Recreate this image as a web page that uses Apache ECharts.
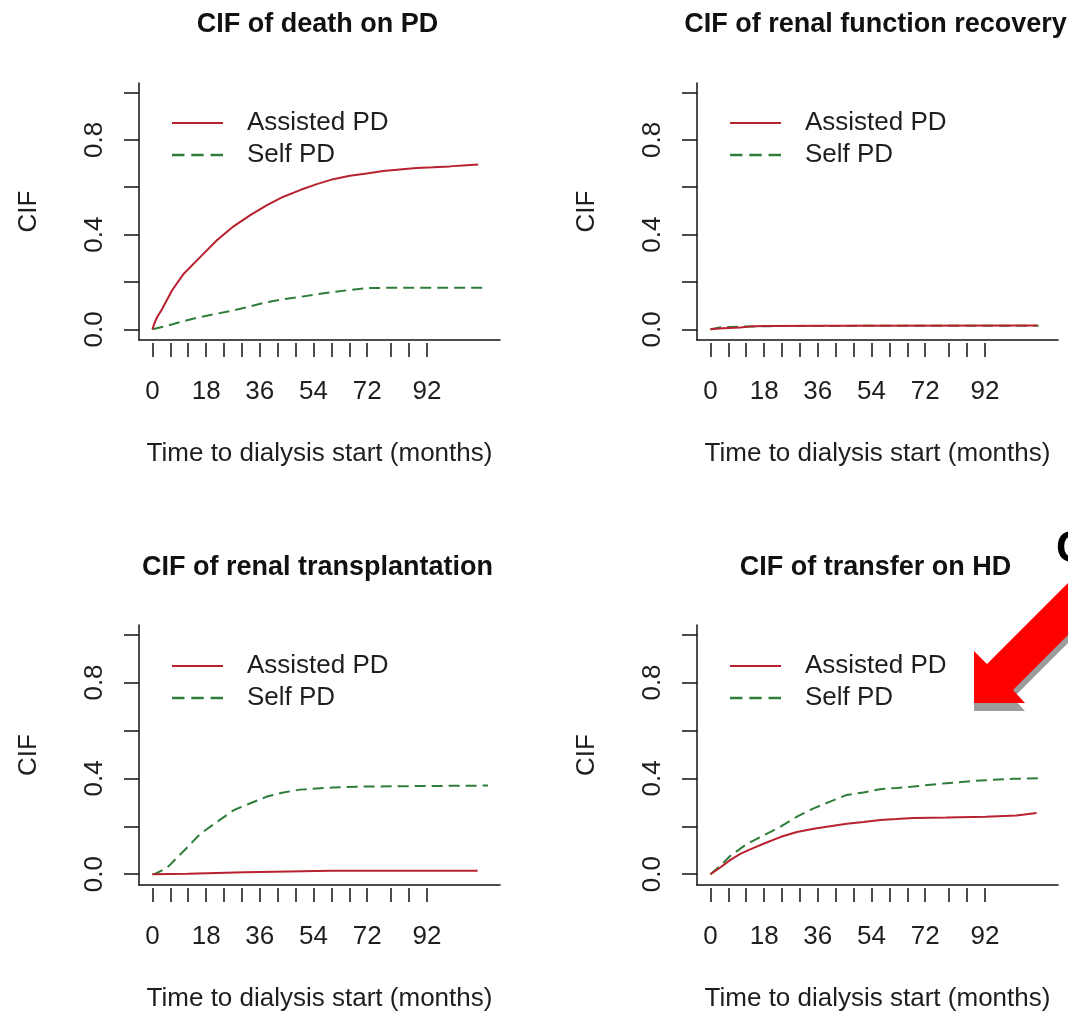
<!DOCTYPE html>
<html><head><meta charset="utf-8">
<script src="https://cdn.jsdelivr.net/npm/echarts@6/dist/echarts.min.js"></script>
<style>html,body{margin:0;padding:0;background:#fff}#c{width:1068px;height:1016px}</style>
</head><body><div id="c"></div>
<script>
// ---------- data ----------
const panelTitles = ['CIF of death on PD', 'CIF of renal function recovery', 'CIF of renal transplantation', 'CIF of transfer on HD'];
const seriesNames = ['Assisted PD', 'Self PD'];
const xTickValues = [0, 6, 12, 18, 24, 30, 36, 42, 48, 54, 60, 66, 72, 80, 86, 92];
const xLabelValues = [0, 18, 36, 54, 72, 92];
const yTickValues = [0, 0.2, 0.4, 0.6, 0.8, 1.0];
const yLabelValues = [0, 0.4, 0.8];
const xAxisName = 'Time to dialysis start (months)';
const yAxisName = 'CIF';

const deathAssisted = [[0,0],[0.5,0.02],[1.5,0.05],[3.2,0.085],[6.6,0.165],[10.5,0.235],[16,0.305],[21.6,0.376],[27.2,0.435],[32.8,0.482],[38.4,0.524],[43.9,0.56],[49.5,0.588],[55.1,0.613],[60.6,0.634],[66.2,0.648],[71.8,0.658],[77.4,0.668],[82.9,0.675],[88.5,0.681],[94.1,0.684],[99.7,0.688],[105.3,0.693],[109.2,0.696]];
const deathSelf = [[0,0],[5,0.015],[10.5,0.035],[16,0.052],[21.6,0.066],[27.2,0.08],[32.8,0.097],[38.4,0.115],[44,0.127],[49.5,0.137],[55,0.148],[60.6,0.158],[66,0.166],[71.8,0.174],[82.9,0.176],[94.1,0.176],[112.5,0.176]];
const recoveryAssisted = [[0,0],[3,0.004],[6,0.006],[10,0.008],[13,0.012],[18,0.014],[40,0.015],[109.5,0.016]];
const recoverySelf = [[0,0],[1.5,0.004],[3,0.008],[6,0.01],[12,0.012],[24,0.014],[60,0.015],[110,0.015]];
const transplantAssisted = [[0,0],[12,0.002],[12.5,0.007],[31,0.008],[31.5,0.013],[60,0.014],[109,0.014]];
const transplantSelf = [[0,0],[1,0.002],[4.9,0.027],[10.5,0.097],[16,0.168],[21.6,0.218],[27.2,0.267],[32.8,0.296],[38.4,0.324],[43.9,0.341],[49.5,0.353],[55,0.358],[60.6,0.362],[71.8,0.366],[90,0.368],[112.5,0.37]];
const hdAssisted = [[0,0],[3.3,0.028],[6.7,0.06],[10,0.085],[13.9,0.107],[17.8,0.127],[23.4,0.155],[29,0.176],[34.6,0.19],[40.1,0.2],[45.7,0.211],[51.3,0.218],[56.9,0.226],[62.4,0.23],[68,0.235],[79.2,0.237],[92.3,0.24],[92.7,0.245],[102.6,0.245],[103,0.252],[109.3,0.255]];
const hdSelf = [[0,0],[3.3,0.035],[6.7,0.077],[12.3,0.127],[17.8,0.162],[23.4,0.198],[29,0.24],[34.6,0.275],[40.1,0.303],[45.7,0.331],[51.3,0.341],[56.9,0.355],[62.4,0.36],[68,0.366],[79.2,0.38],[90.3,0.391],[101.4,0.398],[110.4,0.401]];

const panelData = [
  [deathAssisted, deathSelf],
  [recoveryAssisted, recoverySelf],
  [transplantAssisted, transplantSelf],
  [hdAssisted, hdSelf]
];

// ---------- layout / style ----------
const FONT = '"Liberation Sans", Arial, sans-serif';
const TXT = '#1e1e1e';
const RED = '#b8222f';
const GREEN = '#2f7d3a';
const grids = [
  {left: 139, top: 83, width: 361, height: 257},
  {left: 697, top: 83, width: 361, height: 257},
  {left: 139, top: 625, width: 361, height: 260},
  {left: 697, top: 625, width: 361, height: 260}
];
const titleTops = [11.5, 11.5, 554.5, 554.5];
const XMIN = -4.5, XMAX = 116.5, YMIN = -0.045, YMAX = 1.04;
const axisLineStyle = {color: '#111', width: 1.5};
const FS = 26;

const option = {
  backgroundColor: '#fff',
  animation: false,
  title: [], grid: [], xAxis: [], yAxis: [], legend: [], series: [],
  graphic: []
};

const solidIcon = 'path://M0,0H51V2H0Z';
const dashIcon = 'path://M0,0H11V2H0Z M17,0H28V2H17Z M34,0H45V2H34Z';

grids.forEach((g, i) => {
  option.grid.push(Object.assign({outerBoundsMode: 'none', containLabel: false}, g));
  option.title.push({
    text: panelTitles[i], left: g.left + g.width / 2 - 2, top: titleTops[i], padding: 0, textAlign: 'center',
    textStyle: {fontFamily: FONT, fontWeight: 'bold', fontSize: 27, color: '#111'}
  });
  // box line axis
  option.xAxis.push({
    gridIndex: i, type: 'value', min: XMIN, max: XMAX, position: 'bottom',
    axisLine: {show: true, onZero: false, lineStyle: axisLineStyle},
    axisTick: {show: false}, axisLabel: {show: false}, splitLine: {show: false}
  });
  // tick / label axis, hanging a little below the line
  option.xAxis.push({
    gridIndex: i, type: 'value', min: XMIN, max: XMAX, position: 'bottom', offset: 3,
    axisLine: {show: false, onZero: false},
    axisTick: {show: true, length: 14, customValues: xTickValues, lineStyle: axisLineStyle},
    axisLabel: {show: true, customValues: xLabelValues, margin: 36, fontSize: FS, fontFamily: FONT, color: TXT, hideOverlap: false},
    splitLine: {show: false},
    name: xAxisName, nameLocation: 'middle', nameGap: 98, nameMoveOverlap: false,
    nameTextStyle: {fontSize: FS, fontFamily: FONT, color: TXT}
  });
  option.yAxis.push({
    gridIndex: i, type: 'value', min: YMIN, max: YMAX,
    axisLine: {show: true, onZero: false, lineStyle: axisLineStyle},
    axisTick: {show: true, length: 15, customValues: yTickValues, lineStyle: axisLineStyle},
    axisLabel: {show: true, customValues: yLabelValues, rotate: 90, margin: 31, fontSize: FS, fontFamily: FONT, color: TXT,
      formatter: v => Number(v).toFixed(1)},
    splitLine: {show: false},
    name: yAxisName, nameLocation: 'middle', nameGap: 97, nameRotate: 90, nameMoveOverlap: false,
    nameTextStyle: {fontSize: FS, fontFamily: FONT, color: TXT}
  });
  option.legend.push({
    left: g.left + 33, top: g.top + 27 + (i >= 2 ? 1 : 0), orient: 'vertical', padding: 0,
    itemWidth: 51, itemHeight: 14, itemGap: 6, selectedMode: false,
    itemStyle: {borderWidth: 0},
    textStyle: {fontSize: FS, fontFamily: FONT, color: TXT, padding: [0, 0, 0, 19]},
    data: [{name: seriesNames[0], icon: solidIcon}, {name: seriesNames[1], icon: dashIcon}]
  });
  const [a, s] = panelData[i];
  option.series.push({
    name: seriesNames[1], type: 'line', xAxisIndex: 2 * i, yAxisIndex: i, data: s,
    symbol: 'none', showSymbol: false, color: GREEN,
    lineStyle: {color: GREEN, width: 2, type: [11, 6]}, z: 3
  });
  option.series.push({
    name: seriesNames[0], type: 'line', xAxisIndex: 2 * i, yAxisIndex: i, data: a,
    symbol: 'none', showSymbol: false, color: RED,
    lineStyle: {color: RED, width: 2}, z: 4
  });
});

// red arrow annotation with its grey drop shadow, and the clipped letter at the corner
const arrowPts = [[974,703],[974,651],[987,664],[1100,551],[1100,603],[1013,690],[1025,703]];
option.graphic.push({type: 'polygon', shape: {points: arrowPts.map(p => [p[0], p[1] + 8])}, style: {fill: '#9c9c9c'}, z: 50});
option.graphic.push({type: 'polygon', shape: {points: arrowPts}, style: {fill: '#ff0000'}, z: 51});
option.graphic.push({type: 'text', x: 1056, y: 528, style: {text: 'C', font: 'bold 44px "Liberation Sans", Arial, sans-serif', fill: '#000'}, z: 52});

const chart = echarts.init(document.getElementById('c'), null, {renderer: 'canvas'});
chart.setOption(option);
</script></body></html>
